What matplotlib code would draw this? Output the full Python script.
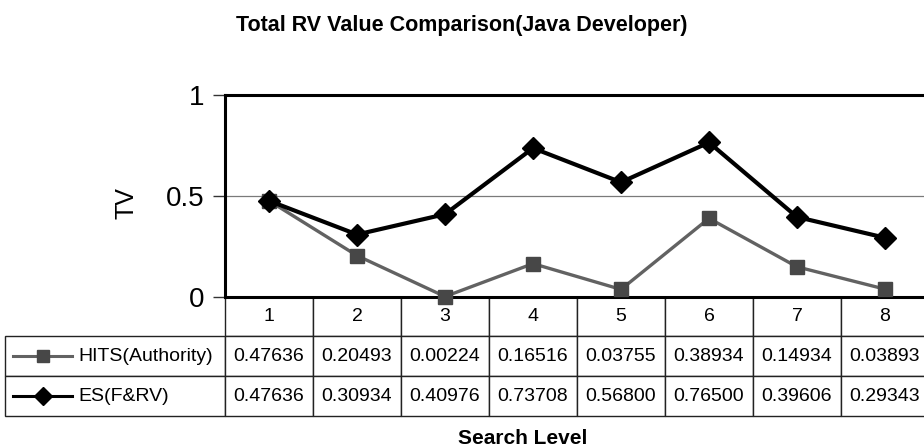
import matplotlib
import numpy as np

matplotlib.use("Agg")
import matplotlib.pyplot as plt
from matplotlib.lines import Line2D
from matplotlib.table import Table

plt.rcParams["font.family"] = ["Liberation Sans", "DejaVu Sans"]

TITLE = "Total RV Value Comparison(Java Developer)"
X_LABEL = "Search Level"
Y_LABEL = "TV"

levels = [1, 2, 3, 4, 5, 6, 7, 8]
hits = [0.47636, 0.20493, 0.00224, 0.16516, 0.03755, 0.38934, 0.14934, 0.03893]
es = [0.47636, 0.30934, 0.40976, 0.73708, 0.56800, 0.76500, 0.39606, 0.29343]
series_names = ["HITS(Authority)", "ES(F&RV)"]
y_ticks = [0, 0.5, 1]
y_tick_labels = ["0", "0.5", "1"]

W, H = 924, 448
HITS_LINE = "#626262"
HITS_MARK = "#474747"
ES_COLOR = "#000000"


def fx(px):
    return px / W


def fy(py):
    return 1 - py / H


fig = plt.figure(figsize=(W / 100, H / 100), dpi=100)
ax_left, ax_right, ax_top, ax_bot = 225, 929, 95, 297
ax = fig.add_axes([fx(ax_left), fy(ax_bot), (ax_right - ax_left) / W, (ax_bot - ax_top) / H])

x = np.array(levels)
ax.plot(x, hits, color=HITS_LINE, linewidth=2.4, marker="s", markersize=10,
        markerfacecolor=HITS_MARK, markeredgecolor=HITS_MARK, clip_on=False, zorder=3)
ax.plot(x, es, color=ES_COLOR, linewidth=3, marker="D", markersize=11,
        markerfacecolor=ES_COLOR, markeredgecolor=ES_COLOR, clip_on=False, zorder=4)

ax.set_xlim(0.5, len(levels) + 0.5)
ax.set_ylim(0, 1)
ax.set_xticks([])
ax.set_yticks(y_ticks)
ax.set_yticklabels(y_tick_labels, fontsize=20)
ax.tick_params(axis="y", direction="out", length=9, width=1, pad=6, color="#333333")
ax.yaxis.grid(True, color="#7a7a7a", linewidth=0.9)
ax.set_axisbelow(True)
for side in ["left", "top", "bottom"]:
    ax.spines[side].set_linewidth(2.2)
    ax.spines[side].set_color("black")
ax.spines["right"].set_visible(False)

# data table below the axes
tab_left, tab_bot = 5, 416
label_w, col_w = 220, 88
row_h = [39, 40, 40]
tbl = Table(ax, bbox=[
    (tab_left - ax_left) / (ax_right - ax_left),
    (ax_bot - tab_bot) / (ax_bot - ax_top),
    (ax_right - tab_left) / (ax_right - ax_left),
    (tab_bot - ax_bot) / (ax_bot - ax_top),
])
corner = tbl.add_cell(0, 0, label_w, row_h[0], text="")
corner.visible_edges = ""
for j, lev in enumerate(levels):
    tbl.add_cell(0, j + 1, col_w, row_h[0], text=str(lev), loc="center")
for i, (name, vals) in enumerate(zip(series_names, [hits, es])):
    c = tbl.add_cell(i + 1, 0, label_w, row_h[i + 1], text=name, loc="left")
    c.PAD = 73 / label_w  # leave room for the legend key
    for j, v in enumerate(vals):
        tbl.add_cell(i + 1, j + 1, col_w, row_h[i + 1], text=f"{v:.5f}", loc="center")
tbl.auto_set_font_size(False)
tbl.set_fontsize(14)
for cell in tbl.get_celld().values():
    cell.set_linewidth(1.0)
    cell.set_edgecolor("#222222")
ax.add_table(tbl)

# legend keys inside the row labels
key_y = [356, 396]
fig.add_artist(Line2D([fx(13), fx(43), fx(72)], [fy(key_y[0])] * 3, transform=fig.transFigure,
                      color=HITS_LINE, linewidth=2.2, marker="s", markersize=9, markevery=[1],
                      markerfacecolor=HITS_MARK, markeredgecolor=HITS_MARK))
fig.add_artist(Line2D([fx(13), fx(43), fx(72)], [fy(key_y[1])] * 3, transform=fig.transFigure,
                      color=ES_COLOR, linewidth=2.2, marker="D", markersize=9, markevery=[1],
                      markerfacecolor=ES_COLOR, markeredgecolor=ES_COLOR))

fig.text(0.5, fy(25), TITLE, ha="center", va="center", fontsize=15.5, fontweight="bold")
fig.text(fx(523), fy(438), X_LABEL, ha="center", va="center", fontsize=15, fontweight="bold")
fig.text(fx(127), fy(203), Y_LABEL, ha="center", va="center", fontsize=18, rotation=90)

fig.savefig("out.png", dpi=100)
